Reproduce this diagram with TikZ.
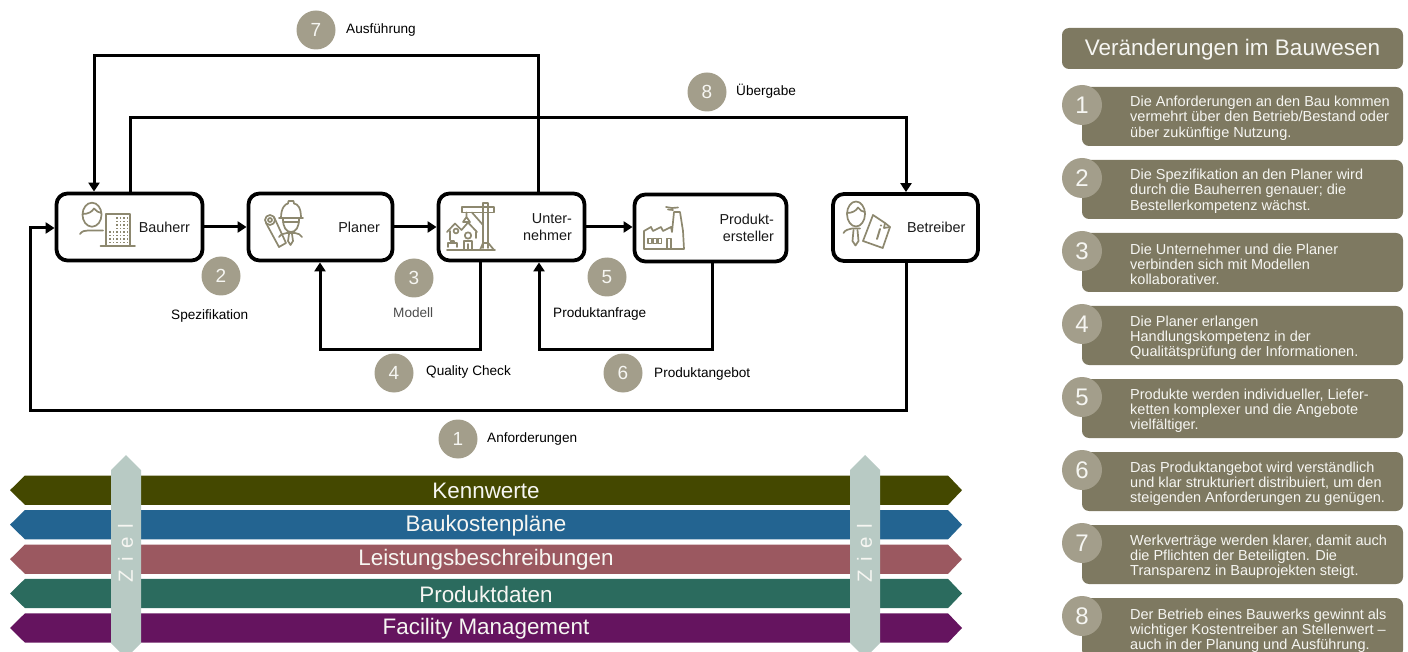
\documentclass[tikz,border=0pt]{standalone}
\usepackage{fontspec}
\setmainfont{Liberation Sans}
\usetikzlibrary{arrows.meta,calc}
\definecolor{circ}{HTML}{A39E8B}
\definecolor{panel}{HTML}{7E7961}
\definecolor{icon}{HTML}{8D886F}
\definecolor{zielc}{HTML}{B8CAC4}
\definecolor{whitetxt}{HTML}{F6F6F2}
\definecolor{barA}{HTML}{444800}
\definecolor{barB}{HTML}{236491}
\definecolor{barC}{HTML}{9B5860}
\definecolor{barD}{HTML}{2B6B5E}
\definecolor{barE}{HTML}{65145F}
\newcommand{\fs}[2]{\fontsize{#1}{#2}\selectfont}
\tikzset{
  actor/.style={draw=black,line width=3.8pt,rounded corners=11pt,fill=white,minimum height=67pt,
    text width=#1-25pt,minimum width=#1,inner xsep=12.5pt,inner ysep=0pt,align=right,font=\fs{14.4}{17.5},text=black!90},
  conn/.style={draw=black,line width=3pt,line join=miter},
  arrowed/.style={conn,-{Triangle[length=9pt,width=11pt]}},
  numcirc/.style={circle,fill=circ,minimum size=39pt,inner sep=0pt,text=whitetxt,font=\fs{19}{19}},
  lab/.style={anchor=west,inner sep=0pt,font=\fs{13.6}{15},text=black},
  panelbox/.style={fill=panel,rounded corners=7pt},
  itemtext/.style={anchor=west,inner sep=0pt,align=left,text=whitetxt,font=\fs{14.5}{15.3}},
  sidecirc/.style={circle,fill=circ,minimum size=40pt,inner sep=0pt,text=whitetxt,font=\fs{24}{24}},
  bartext/.style={text=whitetxt,inner sep=0pt,font=\fs{22.4}{24}},
  zieltext/.style={rotate=90,text=whitetxt,inner sep=0pt,font=\fs{20.5}{21}},
  ic/.style={draw=icon,line width=1.7pt,line cap=round,line join=round},
}
\newcommand{\barshape}[3]{%
  \fill[#2] (10,#1) -- (25,#1-14.7) -- (948,#1-14.7) -- (962,#1) -- (948,#1+14.7) -- (25,#1+14.7) -- cycle;
  \node[bartext] at (486,#1+0.8) {#3};}
\newcommand{\zielshape}[2]{%
  \fill[zielc] (#1,455) -- (#1+15,470) -- (#1+15,643) -- (#1,658) -- (#1-15,643) -- (#1-15,470) -- cycle;
  \node[zieltext] (#2) at (#1-0.5,553) {\addfontfeature{LetterSpace=42}Ziel};}
\newcommand{\sideitem}[4]{%
  \fill[panelbox] (1082,#1) rectangle (1403,#1+59);
  \node[sidecirc] (s#4) at (1082,#1+18) {#4};
  \node[itemtext] (t#4) at (1130,#2+1.2) {#3};}
\begin{document}
\begin{tikzpicture}[x=1pt,y=-1pt]
\useasboundingbox (0,0) rectangle (1408,652);
% actors
\node[actor=146pt] (bau) at (129.5,227) {Bauherr};
\node[actor=144pt] (pla) at (320.5,227) {Planer};
\node[actor=146pt] (unt) at (511.5,227) {Unter-\\nehmer};
\node[actor=152pt] (pro) at (710.5,228) {Produkt-\\ersteller};
\node[actor=145pt] (bet) at (905.5,227.5) {Betreiber};
% corners of the connectors
\coordinate (a) at (538,56);
\coordinate (b) at (94,56);
\coordinate (c) at (130,118);
\coordinate (d) at (906,118);
\coordinate (e) at (906,410);
\coordinate (f) at (30,410);
\coordinate (g) at (30,228);
\coordinate (h) at (480,349);
\coordinate (i) at (320,349);
\coordinate (j) at (712,349);
\coordinate (k) at (539,349);
% connectors
\draw[arrowed] (unt.north -| a) -- (a) -- (b) -- (bau.north -| b);
\draw[arrowed] (bau.north -| c) -- (c) -- (d) -- (bet.north -| d);
\draw[arrowed] (bet.south -| e) -- (e) -- (f) -- (g) -- (bau.west |- g);
\draw[arrowed] (bau) -- (pla);
\draw[arrowed] (pla) -- (unt);
\draw[arrowed] (unt.east) -- (unt.east -| pro.west);
\draw[arrowed] (unt.south -| h) -- (h) -- (i) -- (pla.south -| i);
\draw[arrowed] (pro.south -| j) -- (j) -- (k) -- (unt.south -| k);
% icons: Bauherr
\draw[ic] (92,214.7) ellipse [x radius=9.5,y radius=12];
\draw[ic] (82.7,214) .. controls (88,214) and (92,212) .. (94,208.5) .. controls (96,211) and (99,213) .. (101.5,213);
\draw[ic] (80,234) .. controls (82,231) and (85,230.5) .. (88,230.5) -- (103,230.5);
\draw[ic] (106,246) -- (106,214) -- (130,214) -- (130,246);
\draw[ic] (100.5,246) -- (135,246);
\foreach \px in {117,120.5,124,127.5} \foreach \py in {218,221.5,225,228.5}
  \fill[icon] (\px-.7,\py-.7) rectangle (\px+.7,\py+.7);
\foreach \px in {110,113.5,117,120.5,124,127.5} \foreach \py in {232,235.5,239,242.5}
  \fill[icon] (\px-.7,\py-.7) rectangle (\px+.7,\py+.7);
% icons: Planer
\draw[ic] (279,218) -- (303,218);
\draw[ic] (281,218) .. controls (281,208) and (285,204) .. (288,203.5) -- (288.5,201) -- (293.5,201) -- (294,203.5) .. controls (298,204) and (301,208) .. (301,218);
\draw[ic] (283,219) .. controls (283,227) and (286,232) .. (291,232) .. controls (296,232) and (299,227) .. (299,219);
\draw[ic] (283,222) -- (299,222);
\draw[ic] (279,237) .. controls (281,234) and (284,233.5) .. (287,233) -- (295,233) .. controls (298,234) and (301,234) .. (302,237);
\draw[ic] (289,234) -- (288,241) -- (290.5,245) -- (293,241) -- (292,234);
\draw[ic] (270,220) circle [radius=5];
\draw[ic] (270,220) circle [radius=2];
\draw[ic] (266,223) -- (279,247) -- (286,243) -- (274,217);
% icons: Unternehmer
\draw[ic] (483,248) -- (483,203) -- (488.3,203) -- (488.3,248);
\draw[ic] (462,207) rectangle (494,212.5);
\draw[ic] (466.5,212.5) -- (466.5,217) -- (463,222) -- (470,222) -- (466.5,217);
\draw[ic] (483,225) -- (472,212.5);
\draw[ic] (447,250) -- (495,250);
\draw[ic] (480,250) -- (483,243) -- (488.3,243) -- (494,250);
\draw[ic] (447,232) -- (455,223.5) -- (461.5,230) -- (468,222.5) -- (477,232);
\draw[ic] (450,231) -- (450,240);
\draw[ic] (476,232) -- (476,238);
\draw[ic] (456,231) circle [radius=2.4];
\draw[ic] (468,235.5) circle [radius=3.2];
\draw[ic] (464,250) -- (464,241) -- (472,241) -- (472,250);
\draw[ic] (468,244) -- (468,250);
\draw[ic] (448,247) -- (448,243) -- (457,243) -- (457,247);
\draw[ic] (451,243) -- (451,241) -- (454,241) -- (454,243);
% icons: Produktersteller
\draw[ic] (644,249) -- (644,231) -- (651,227) -- (653,231) -- (661,227) -- (663,231) -- (671,227) -- (672,232) -- (674,212) -- (680,212) -- (683,231) -- (684,249) -- cycle;
\draw[ic] (666,207) -- (672,208) -- (678,207.5);
\draw[ic] (668,209.5) -- (673,210);
\foreach \px in {648,653,658} \draw[ic,line width=1.2pt] (\px,238.5) rectangle (\px+3.5,243.5);
\draw[ic] (667,249) -- (667,238.5) -- (671,238.5) -- (671,249);
% icons: Betreiber
\draw[ic] (856,214) ellipse [x radius=9,y radius=12.5];
\draw[ic] (847,213) .. controls (852,213) and (856,211) .. (858,207.5) .. controls (860,210) and (862,212) .. (865,212);
\draw[ic] (843.5,233) .. controls (845,230) and (849,229) .. (852,228.5) -- (860,228.5);
\draw[ic] (853.5,230) -- (852.5,241) -- (855.5,245.5) -- (858.5,241) -- (857.5,230);
\draw[ic,fill=white] (873,215) -- (885,223) -- (890,227) -- (882.7,248) -- (863,241) -- cycle;
\draw[ic] (885,223) -- (884,228) -- (890,227);
\draw[ic,line width=1.9pt] (880,229) -- (877,239);
\fill[icon] (881,225.5) circle [radius=1.1];
% numbered circles and labels
\node[numcirc] (n7) at (316,30) {7};
\node[numcirc] (n8) at (707,92) {8};
\node[numcirc] (n2) at (221,276) {2};
\node[numcirc] (n3) at (414,278) {3};
\node[numcirc] (n5) at (607,277) {5};
\node[numcirc] (n4) at (394,373) {4};
\node[numcirc] (n6) at (623,373) {6};
\node[numcirc] (n1) at (458,439) {1};
\node[lab] (l7) at (346,29.5) {Ausführung};
\node[lab] (l8) at (736,91.5) {Übergabe};
\node[lab] (l2) at (171,315.5) {Spezifikation};
\node[lab,text=black!70] (l3) at (393,312.5) {Modell};
\node[lab] (l5) at (553,313.5) {Produktanfrage};
\node[lab] (l4) at (426,371.5) {Quality Check};
\node[lab] (l6) at (654,373.5) {Produktangebot};
\node[lab] (l1) at (487,438.5) {Anforderungen};
% bars
\barshape{490.2}{barA}{Kennwerte}
\barshape{524.7}{barB}{Baukostenpläne}
\barshape{559.2}{barC}{Leistungsbeschreibungen}
\barshape{593.5}{barD}{Produktdaten}
\barshape{628}{barE}{Facility Management}
\zielshape{126}{z1}
\zielshape{865}{z2}
% side panel
\fill[panelbox] (1062,28) rectangle (1403,69);
\node[text=whitetxt,inner sep=0pt,font=\fs{22.5}{26}] (title) at (1232.5,50) {Veränderungen im Bauwesen};
\sideitem{87}{117}{Die Anforderungen an den Bau kommen\\vermehrt über den Betrieb/Bestand oder\\über zukünftige Nutzung.}{1}
\sideitem{160}{190}{Die Spezifikation an den Planer wird\\durch die Bauherren genauer; die\\Bestellerkompetenz wächst.}{2}
\sideitem{233}{263}{Die Unternehmer und die Planer\\verbinden sich mit Modellen\\kollaborativer.}{3}
\sideitem{306}{336.5}{Die Planer erlangen\\Handlungskompetenz in der\\Qualitätsprüfung der Informationen.}{4}
\sideitem{379}{409.5}{Produkte werden individueller, Liefer-\\ketten komplexer und die Angebote\\vielfältiger.}{5}
\sideitem{452}{482.5}{Das Produktangebot wird verständlich\\und klar strukturiert distribuiert, um den\\steigenden Anforderungen zu genügen.}{6}
\sideitem{525}{555.5}{Werkverträge werden klarer, damit auch\\die Pflichten der Beteiligten. Die\\Transparenz in Bauprojekten steigt.}{7}
\sideitem{598}{629.5}{Der Betrieb eines Bauwerks gewinnt als\\wichtiger Kostentreiber an Stellenwert –\\auch in der Planung und Ausführung.}{8}
\end{tikzpicture}
\end{document}
